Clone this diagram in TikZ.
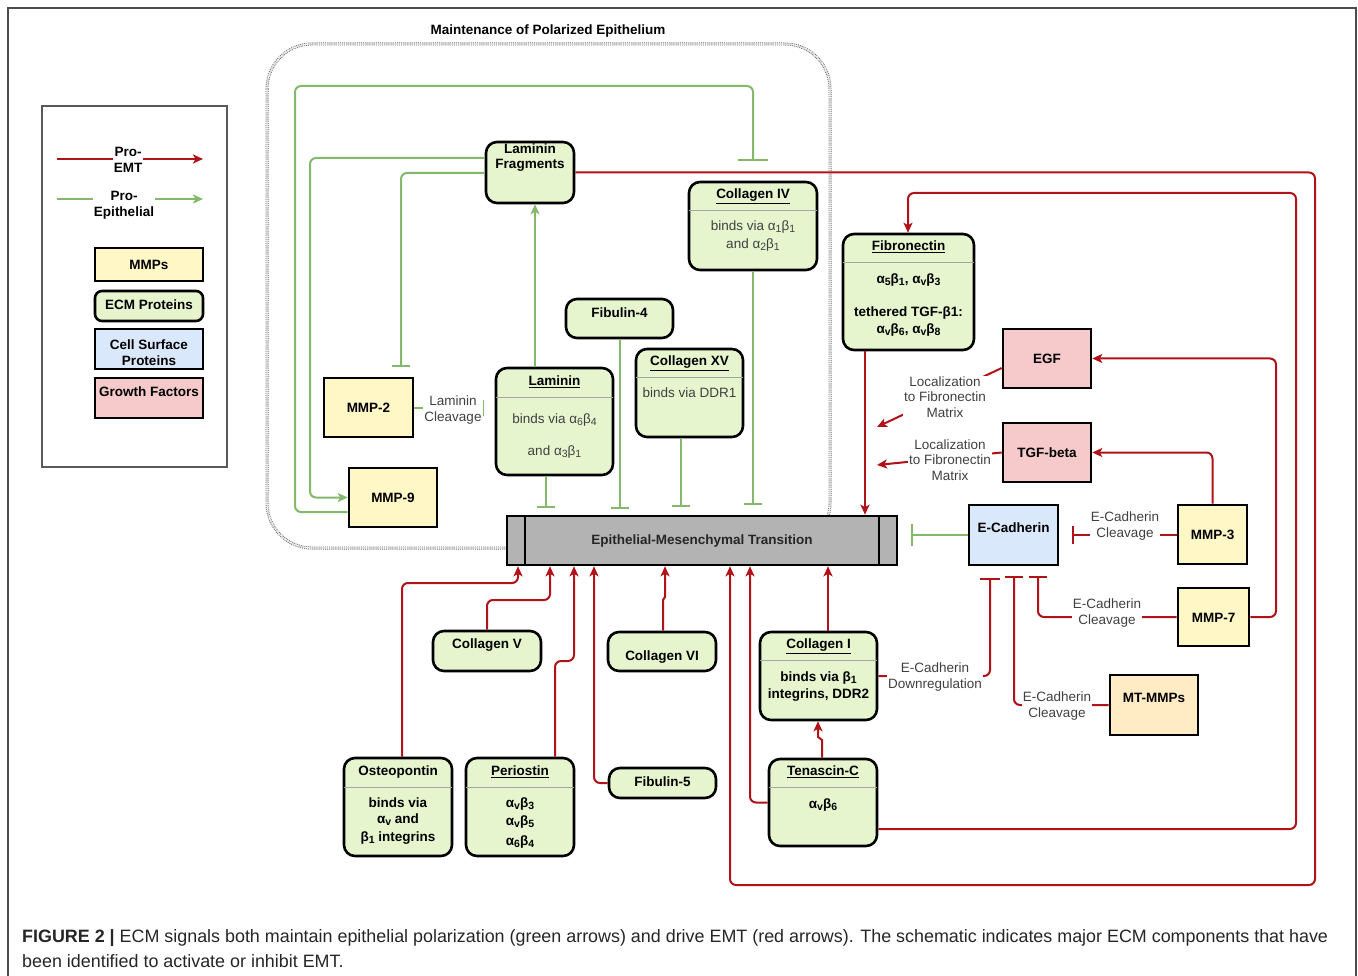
\documentclass[tikz,border=0pt]{standalone}
\usepackage{fontspec}
\setmainfont{Liberation Sans}
\usetikzlibrary{arrows.meta}
\definecolor{ecmg}{HTML}{E6F5CE}
\definecolor{mmpy}{HTML}{FFF7C6}
\definecolor{mtmy}{HTML}{FFEBC4}
\definecolor{cellb}{HTML}{DAE8FC}
\definecolor{gfp}{HTML}{F6CACB}
\definecolor{redl}{HTML}{B01218}
\definecolor{grnl}{HTML}{84B86A}
\definecolor{emtg}{HTML}{B3B3B3}
\definecolor{txtg}{HTML}{404040}
\newcommand{\lsub}[1]{\raisebox{-0.3ex}{\fontsize{10.5}{10}\selectfont #1}}
\tikzset{
  base/.style={draw=black, line width=2.6pt, inner sep=0pt},
  ecm/.style={base, fill=ecmg, rounded corners=11pt},
  mmpbox/.style={base, fill=mmpy},
  mtbox/.style={base, fill=mtmy},
  cellbox/.style={base, fill=cellb},
  gfbox/.style={base, fill=gfp},
  bt/.style={font=\fontsize{13.5}{15}\selectfont\bfseries, inner sep=0pt, align=center},
  rt/.style={font=\fontsize{13.5}{15}\selectfont, text=txtg, inner sep=0pt, align=center},
  lbl/.style={font=\fontsize{13.5}{15.5}\selectfont, text=txtg, fill=white, inner sep=1pt, align=center},
  sepline/.style={draw=gray!70, line width=0.8pt},
  rline/.style={draw=redl, line width=2pt, rounded corners=6pt},
  gline/.style={draw=grnl, line width=2pt, rounded corners=6pt},
  arr/.style={-{Stealth[length=10pt,width=9pt,inset=2.5pt]}},
  tee/.style={-{Bar[width=18pt]}},
}
\begin{document}
\begin{tikzpicture}[x=1pt,y=-1pt]
\useasboundingbox (0,0) rectangle (1358,976);
\fill[white] (0,0) rectangle (1358,976);
% outer frame
\draw[gray!60!black, line width=1.3pt] (8,976) -- (8,8) -- (1356,8) -- (1356,976);

% legend
\node[draw=gray!70!black, line width=2.4pt, minimum width=185pt, minimum height=361pt, inner sep=0pt] (legend) at (134.5,286.5) {};
\coordinate (lr1) at (57,159); \coordinate (lr2) at (203,159);
\draw[rline, arr] (lr1) -- (lr2);
\node[bt, fill=white, inner sep=1pt, font=\fontsize{13.5}{16}\selectfont\bfseries] (lrt) at (128,160) {Pro-\\EMT};
\coordinate (lg1) at (57,199); \coordinate (lg2) at (203,199);
\draw[gline, arr] (lg1) -- (lg2);
\node[bt, fill=white, inner sep=1pt, font=\fontsize{13.5}{16}\selectfont\bfseries] (lgt) at (124,205) {Pro-\\Epithelial};
\node[mmpbox, minimum width=108pt, minimum height=33pt] (lmmp) at (149,264.5) {};
\node[bt] (lmmpt) at (149,265) {MMPs};
\node[ecm, rounded corners=7pt, minimum width=108pt, minimum height=30pt] (lecm) at (149,306) {};
\node[bt] (lecmt) at (149,305) {ECM Proteins};
\node[cellbox, minimum width=108pt, minimum height=40pt] (lcell) at (149,349) {};
\node[bt, font=\fontsize{13.5}{16}\selectfont\bfseries] (lcellt) at (149,353) {Cell Surface\\Proteins};
\node[gfbox, minimum width=108pt, minimum height=40pt] (lgf) at (149,398) {};
\node[bt] (lgft) at (149,392) {Growth Factors};

% polarized epithelium container
\draw[draw=gray!85!black, line width=0.9pt, densely dotted, double=white, double distance=1.2pt, rounded corners=45pt] (267,44) rectangle (830,548);
\node[bt] (title) at (548,31) {Maintenance of Polarized Epithelium};

% ---------- EMT bar ----------
\node[base, fill=emtg, minimum width=390pt, minimum height=49pt] (emt) at (702,540.5) {};
\draw[line width=2.6pt] (525,516) -- (525,565);
\draw[line width=2.6pt] (879,516) -- (879,565);
\node[bt, text=black!85] (emtt) at (702,541) {Epithelial-Mesenchymal Transition};

% ---------- nodes ----------
\node[ecm, minimum width=88pt, minimum height=61pt] (lamfrag) at (530,172.5) {};
\node[bt] (lamfragt) at (530,158) {Laminin\\Fragments};

\node[ecm, minimum width=128pt, minimum height=88pt] (col4) at (753,226) {};
\node[bt] (col4t) at (753,196) {\underline{Collagen IV}};
\draw[sepline] (689,210) -- (817,210);
\node[rt] (col4b1) at (753,227) {binds via α\lsub{1}β\lsub{1}};
\node[rt] (col4b2) at (753,245) {and α\lsub{2}β\lsub{1}};

\node[ecm, minimum width=107pt, minimum height=39pt] (fib4) at (619.5,318.5) {};
\node[bt] (fib4t) at (619.5,313) {Fibulin-4};

\node[ecm, minimum width=107pt, minimum height=88pt] (col15) at (689.5,393) {};
\node[bt] (col15t) at (689.5,363) {\underline{Collagen XV}};
\draw[sepline] (636,377) -- (743,377);
\node[rt] (col15b) at (689.5,393) {binds via DDR1};

\node[ecm, minimum width=117pt, minimum height=107pt] (lam) at (554.5,421.5) {};
\node[bt] (lamt) at (554.5,382) {\underline{Laminin}};
\draw[sepline] (496,397) -- (613,397);
\node[rt] (lamb1) at (554.5,420) {binds via α\lsub{6}β\lsub{4}};
\node[rt] (lamb2) at (554.5,452) {and α\lsub{3}β\lsub{1}};

\node[mmpbox, minimum width=89pt, minimum height=59pt] (mmp2) at (368.5,407.5) {};
\node[bt] (mmp2t) at (368.5,408) {MMP-2};
\node[mmpbox, minimum width=88pt, minimum height=59pt] (mmp9) at (393,497.5) {};
\node[bt] (mmp9t) at (393,498) {MMP-9};

\node[ecm, minimum width=131pt, minimum height=116pt] (fibro) at (908.5,292) {};
\node[bt] (fibrot) at (908.5,247) {\underline{Fibronectin}};
\draw[sepline] (843,262) -- (974,262);
\node[bt] (fibrob1) at (908.5,280) {α\lsub{5}β\lsub{1}, α\lsub{v}β\lsub{3}};
\node[bt] (fibrob2) at (908.5,313) {tethered TGF-β1:};
\node[bt] (fibrob3) at (908.5,330) {α\lsub{v}β\lsub{6}, α\lsub{v}β\lsub{8}};

\node[gfbox, minimum width=88pt, minimum height=59pt] (egf) at (1047,358.5) {};
\node[bt] (egft) at (1047,359) {EGF};
\node[gfbox, minimum width=88pt, minimum height=59pt] (tgf) at (1047,452.5) {};
\node[bt] (tgft) at (1047,453) {TGF-beta};

\node[cellbox, minimum width=89pt, minimum height=60pt] (ecad) at (1013.5,535) {};
\node[bt] (ecadt) at (1013.5,528) {E-Cadherin};
\node[mmpbox, minimum width=69pt, minimum height=59pt] (mmp3) at (1212.5,534.5) {};
\node[bt] (mmp3t) at (1212.5,535) {MMP-3};
\node[mmpbox, minimum width=71pt, minimum height=58pt] (mmp7) at (1213.5,617) {};
\node[bt] (mmp7t) at (1213.5,618) {MMP-7};
\node[mtbox, minimum width=88pt, minimum height=60pt] (mtmmp) at (1154,705) {};
\node[bt] (mtmmpt) at (1154,698) {MT-MMPs};

\node[ecm, minimum width=108pt, minimum height=40pt] (col5) at (487,651) {};
\node[bt] (col5t) at (487,645) {Collagen V};
\node[ecm, minimum width=108pt, minimum height=39pt] (col6) at (662,651.5) {};
\node[bt] (col6t) at (662,657) {Collagen VI};

\node[ecm, minimum width=117pt, minimum height=88pt] (col1) at (818.5,676) {};
\node[bt] (col1t) at (818.5,646) {\underline{Collagen I}};
\draw[sepline] (760,660) -- (877,660);
\node[bt] (col1b1) at (818.5,678) {binds via β\lsub{1}};
\node[bt] (col1b2) at (818.5,695) {integrins, DDR2};

\node[ecm, minimum width=108pt, minimum height=98pt] (osteo) at (398,807) {};
\node[bt] (osteot) at (398,772) {Osteopontin};
\draw[sepline] (344,787) -- (452,787);
\node[bt] (osteob1) at (398,803) {binds via};
\node[bt] (osteob2) at (398,820) {α\lsub{v} and};
\node[bt] (osteob3) at (398,838) {β\lsub{1} integrins};

\node[ecm, minimum width=108pt, minimum height=98pt] (peri) at (520,807) {};
\node[bt] (perit) at (520,772) {\underline{Periostin}};
\draw[sepline] (466,787) -- (574,787);
\node[bt] (perib1) at (520,804) {α\lsub{v}β\lsub{3}};
\node[bt] (perib2) at (520,822) {α\lsub{v}β\lsub{5}};
\node[bt] (perib3) at (520,842) {α\lsub{6}β\lsub{4}};

\node[ecm, minimum width=107pt, minimum height=30pt] (fib5) at (662.5,783) {};
\node[bt] (fib5t) at (662.5,782) {Fibulin-5};

\node[ecm, minimum width=108pt, minimum height=87pt] (tenc) at (823,802.5) {};
\node[bt] (tenct) at (823,772) {\underline{Tenascin-C}};
\draw[sepline] (769,787) -- (877,787);
\node[bt] (tencb) at (823,805) {α\lsub{v}β\lsub{6}};

% ---------- green connectors ----------
\draw[gline, -{Bar[width=30pt]}, shorten >=20pt] (mmp9.west |- 0,512) -- (295,512) -- (295,86) -- (753,86) -- (col4.north);
\draw[gline, arr] (lamfrag.west |- 0,158) -- (310,158) -- (310,497.5) -- (mmp9.west);
\draw[gline, tee, shorten >=10pt] (lamfrag.west |- 0,173) -- (401,173) -- (mmp2.north -| 401,0);
\draw[gline, arr] (lam.north -| 535,0) -- (lamfrag.south -| 535,0);
\draw[gline, -{Bar[width=16pt]}, shorten >=11pt] (mmp2.east) -- (mmp2.east -| lam.west);
\node[lbl] (lamcl) at (453,410) {Laminin\\Cleavage};
\draw[gline, tee, shorten >=7pt] (lam.south -| 546,0) -- (emt.north -| 546,0);
\draw[gline, tee, shorten >=6pt] (fib4.south -| 620,0) -- (emt.north -| 620,0);
\draw[gline, tee, shorten >=8pt] (col15.south -| 681,0) -- (emt.north -| 681,0);
\draw[gline, tee, shorten >=10pt] (col4.south) -- (emt.north -| col4.south);
\draw[gline, -{Bar[width=22pt]}, shorten >=13pt] (ecad.west) -- (ecad.west -| emt.east);

% ---------- red connectors ----------
\draw[rline, arr] (lamfrag.east) -- (1315,172.5) -- (1315,885) -- (730,885) -- (emt.south -| 730,0);
\draw[rline, arr] (tenc.east |- 0,829) -- (1296,829) -- (1296,193) -- (908,193) -- (fibro.north -| 908,0);
\draw[rline, arr] (tenc.west) -- (750,802.5) -- (emt.south -| 750,0);
\draw[rline, arr, rounded corners=0pt] (tenc.north -| 822,0) -- (822,740) -- (818,737) -- (col1.south -| 818,0);
\draw[rline, arr] (col1.north -| 828,0) -- (emt.south -| 828,0);
\draw[rline, -{Bar[width=20pt]}, shorten >=12pt] (col1.east |- 0,676) -- (990,676) -- (ecad.south -| 990,0);
\draw[rline, tee, shorten >=10pt] (mtmmp.west) -- (1014,705) -- (ecad.south -| 1014,0);
\draw[rline, tee, shorten >=10pt] (mmp7.west) -- (1038,617) -- (ecad.south -| 1038,0);
\draw[rline, tee, shorten >=13pt] (mmp3.west) -- (mmp3.west -| ecad.east);
\draw[rline, arr] (mmp3.north) -- (1212.5,452.5) -- (tgf.east);
\draw[rline, arr] (mmp7.east) -- (1276,617) -- (1276,358.5) -- (egf.east);
\coordinate (loc1) at (877,427);
\coordinate (loc2) at (877,465);
\draw[rline, arr] (egf.west |- 0,368) -- (loc1);
\draw[rline, arr] (tgf.west) -- (loc2);
\draw[rline, arr] (fibro.south -| 865,0) -- (emt.north -| 865,0);
\draw[rline, arr, rounded corners=0pt] (col6.north -| 663,0) -- (663,600) -- (665,597) -- (emt.south -| 665,0);
\draw[rline, arr] (col5.north) -- (487,600) -- (550,600) -- (emt.south -| 550,0);
\draw[rline, arr] (osteo.north -| 402,0) -- (402,583) -- (518,583) -- (emt.south -| 518,0);
\draw[rline, arr] (peri.north -| 555,0) -- (555,661) -- (574,661) -- (emt.south -| 574,0);
\draw[rline, arr] (fib5.west) -- (594,783) -- (emt.south -| 594,0);

% ---------- labels ----------
\node[lbl] (ecdown) at (935,677) {E-Cadherin\\Downregulation};
\node[lbl] (ecl3) at (1125,526) {E-Cadherin\\Cleavage};
\node[lbl] (ecl7) at (1107,613) {E-Cadherin\\Cleavage};
\node[lbl] (eclmt) at (1057,706) {E-Cadherin\\Cleavage};
\node[lbl] (loct1) at (945,397) {Localization\\to Fibronectin\\Matrix};
\node[lbl] (loct2) at (950,460) {Localization\\to Fibronectin\\Matrix};

% ---------- caption ----------
\node[anchor=base west, inner sep=0pt, font=\fontsize{17.9}{20}\selectfont, text=black!85] (cap1) at (22,942) {\textbf{FIGURE 2 |} ECM signals both maintain epithelial polarization (green arrows) and drive EMT (red arrows). The schematic indicates major ECM components that have};
\node[anchor=base west, inner sep=0pt, font=\fontsize{17.9}{20}\selectfont, text=black!85] (cap2) at (22,967) {been identified to activate or inhibit EMT.};
\end{tikzpicture}
\end{document}
